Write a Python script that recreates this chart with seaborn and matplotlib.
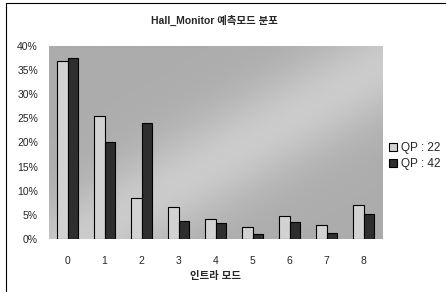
import numpy as np
import pandas as pd
import matplotlib
matplotlib.use('Agg')
import matplotlib.pyplot as plt
import seaborn as sns
from matplotlib.patches import Rectangle
from matplotlib.ticker import PercentFormatter

modes = ['0', '1', '2', '3', '4', '5', '6', '7', '8']
qp22 = [37.0, 25.5, 8.4, 6.7, 4.2, 2.4, 4.7, 2.8, 7.1]
qp42 = [37.5, 20.0, 24.0, 3.8, 3.3, 1.0, 3.4, 1.3, 5.2]
series = ['QP : 22', 'QP : 42']

df = pd.DataFrame({
    'mode': modes * 2,
    'value': qp22 + qp42,
    'series': [series[0]] * len(modes) + [series[1]] * len(modes),
})

sns.set_style('white')
plt.rcParams['font.family'] = ['Liberation Sans', 'Noto Sans CJK KR', 'DejaVu Sans']

fig = plt.figure(figsize=(4.46, 2.92), dpi=100)
ax = fig.add_axes([0.110, 0.182, 0.747, 0.660])
ax.set_facecolor('#b8b8b8')

# soft diagonal light band like the original gradient fill
gx, gy = np.meshgrid(np.linspace(0, 1, 200), np.linspace(0, 1, 200))
band = np.exp(-((gx - gy - 0.1) ** 2) / 0.08)
ax.imshow(band, extent=(0, 1, 0, 1), transform=ax.transAxes, cmap='gray',
          vmin=-5.6, vmax=2.7, origin='lower', aspect='auto', zorder=0,
          interpolation='bilinear')

sns.barplot(data=df, x='mode', y='value', hue='series', ax=ax,
            palette=['#d2d2d2', '#2e2e2e'], width=0.57,
            edgecolor='black', linewidth=0.8, saturation=1, zorder=2)

ax.set_xlim(-0.5, 8.5)
ax.set_ylim(0, 40)
ax.set_yticks(np.arange(0, 41, 5))
ax.yaxis.set_major_formatter(PercentFormatter(decimals=0))
ax.tick_params(axis='y', length=0, pad=8, labelsize=7.5)
ax.tick_params(axis='x', length=0, pad=12, labelsize=7.5)
for s in ax.spines.values():
    s.set_visible(False)

ax.set_xlabel('인트라 모드', fontsize=7.5, fontweight='bold', labelpad=4)
ax.set_ylabel('')
fig.suptitle('Hall_Monitor 예측모드 분포', x=0.48, y=0.95, fontsize=7.5, fontweight='bold')

handles, labels = ax.get_legend_handles_labels()
ax.get_legend().remove()
fig.legend(handles, labels, loc='center left', bbox_to_anchor=(0.862, 0.465),
           frameon=False, fontsize=8.5, handlelength=0.7, handleheight=0.7,
           handletextpad=0.3, labelspacing=0.35, borderaxespad=0)

# outer frame (left and top edges)
fig.add_artist(Rectangle((0.013, -0.02), 1.1, 1.01, transform=fig.transFigure,
                         fill=False, edgecolor='black', linewidth=0.8))

fig.savefig('out.png', dpi=100, facecolor='white')
